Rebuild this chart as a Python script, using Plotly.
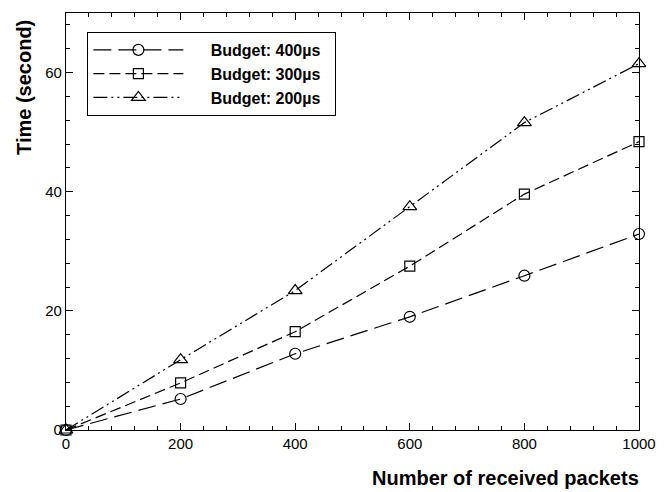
import plotly.graph_objects as go

packets = [0, 200, 400, 600, 800, 1000]
budget_400 = [0, 5.2, 12.8, 19.0, 25.9, 32.9]
budget_300 = [0, 7.9, 16.5, 27.5, 39.6, 48.4]
budget_200 = [0, 11.8, 23.4, 37.5, 51.6, 61.5]
series_names = ["Budget: 400\u00b5s", "Budget: 300\u00b5s", "Budget: 200\u00b5s"]
x_ticks = [0, 200, 400, 600, 800, 1000]
y_ticks = [0, 20, 40, 60]

FONT = "Liberation Sans, Arial, sans-serif"
PAD = "\u00a0" * 5

styles = [
    dict(symbol="circle-open", size=11, dash="18px,7px"),
    dict(symbol="square-open", size=10, dash="11px,5px"),
    dict(symbol="triangle-up-open", size=12, dash="14px,4px,2px,4px,2px,4px"),
]

fig = go.Figure()
for name, ys, st in zip(series_names, [budget_400, budget_300, budget_200], styles):
    fig.add_trace(go.Scatter(
        x=packets, y=ys, name=PAD + name + "\u00a0\u00a0", mode="lines+markers",
        line=dict(color="black", width=1.2, dash=st["dash"]),
        marker=dict(symbol=st["symbol"], size=st["size"], color="black",
                    line=dict(color="black", width=1.2)),
        cliponaxis=False,
    ))

axis_common = dict(
    showline=True, linecolor="black", linewidth=1.2, mirror="allticks",
    ticks="inside", tickcolor="black", tickwidth=1.2,
    showgrid=False, zeroline=False,
    tickfont=dict(family=FONT, size=15, color="black"),
)

fig.update_xaxes(range=[0, 1000], tickvals=x_ticks, ticklen=7,
                 minor=dict(dtick=40, ticks="inside", ticklen=4, tickcolor="black", tickwidth=1.2, showgrid=False),
                 **axis_common)
fig.update_yaxes(range=[0, 70], tickvals=y_ticks, ticklen=7,
                 minor=dict(dtick=4, ticks="inside", ticklen=4, tickcolor="black", tickwidth=1.2, showgrid=False),
                 **axis_common)

fig.update_layout(
    width=668, height=492,
    margin=dict(l=66, r=18, t=12, b=62),
    plot_bgcolor="white", paper_bgcolor="white",
    font=dict(family=FONT, color="black"),
    showlegend=True,
    legend=dict(
        x=0.037, y=0.955, xanchor="left", yanchor="top",
        bordercolor="black", borderwidth=1.2, bgcolor="white",
        font=dict(family=FONT, size=16, color="black", weight="bold"),
        itemwidth=90,
    ),
    annotations=[
        dict(text="<b>Number of received packets</b>", xref="paper", yref="paper",
             x=1.003, y=-0.115, xanchor="right", yanchor="middle", showarrow=False,
             font=dict(family=FONT, size=20, color="black")),
        dict(text="<b>Time (second)</b>", xref="paper", yref="paper",
             x=-0.0745, y=0.821, xanchor="center", yanchor="middle", showarrow=False,
             textangle=-90, font=dict(family=FONT, size=20, color="black")),
    ],
)

fig.write_html("out.html", config={"displayModeBar": False},
               post_script="document.body.style.margin='0';")
